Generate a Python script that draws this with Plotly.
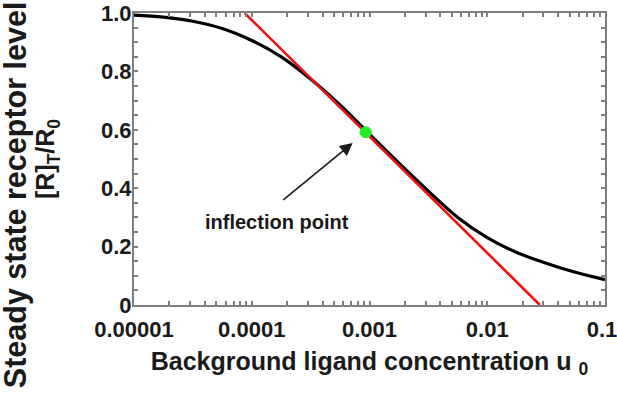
import math
import plotly.graph_objects as go

# ---- data ----
u_curve = [1.0e-5, 1.78e-5, 3.16e-5, 5.62e-5, 1.0e-4, 1.78e-4, 3.16e-4, 5.62e-4,
           1.0e-3, 1.78e-3, 3.16e-3, 5.62e-3, 1.0e-2, 1.78e-2, 3.16e-2, 5.62e-2, 0.1]
r_curve = [0.993, 0.986, 0.972, 0.947, 0.906, 0.850, 0.774, 0.685,
           0.585, 0.486, 0.390, 0.300, 0.231, 0.180, 0.143, 0.112, 0.087]

u_tangent = [8.7e-5, 0.028]
r_tangent = [1.0, 0.0]

u_inflection = [9.3e-4]
r_inflection = [0.592]

x_major = [1e-5, 1e-4, 1e-3, 1e-2, 1e-1]
x_major_text = ["0.00001", "0.0001", "0.001", "0.01", "0.1&nbsp;"]
y_major = [0, 0.2, 0.4, 0.6, 0.8, 1.0]
y_major_text = ["0", "0.2", "0.4", "0.6", "0.8", "1.0"]

x_tickvals, x_ticktext = [], []
for d in range(-5, -1):
    for k in range(1, 10):
        x_tickvals.append(k * 10.0 ** d)
        x_ticktext.append("<b>" + x_major_text[d + 5] + "</b>" if k == 1 else "")
x_tickvals.append(x_major[-1])
x_ticktext.append("<b>" + x_major_text[-1] + "</b>")

y_tickvals, y_ticktext = [], []
for i in range(21):
    v = round(i * 0.05, 2)
    y_tickvals.append(v)
    y_ticktext.append("<b>" + y_major_text[i // 4] + "</b>" if i % 4 == 0 else "")

FONT = "Liberation Sans, Arial, Helvetica, sans-serif"
TXT = "#1a1a1a"
AX = "#7f7f7f"

fig = go.Figure()
fig.add_trace(go.Scatter(x=u_curve, y=r_curve, mode="lines",
                         line=dict(color="black", width=3.2, shape="spline", smoothing=1.0),
                         showlegend=False, hoverinfo="skip"))
fig.add_trace(go.Scatter(x=u_tangent, y=r_tangent, mode="lines",
                         line=dict(color="#ee1111", width=2.6),
                         showlegend=False, hoverinfo="skip"))
fig.add_trace(go.Scatter(x=u_inflection, y=r_inflection, mode="markers",
                         marker=dict(color="#22ee22", size=12, line=dict(width=0)),
                         showlegend=False, hoverinfo="skip"))

fig.update_layout(
    width=617, height=394,
    margin=dict(l=134, r=12, t=13, b=89),
    paper_bgcolor="white", plot_bgcolor="white",
    font=dict(family=FONT, color=TXT),
)

fig.update_xaxes(
    type="log", range=[-5.0001, -0.9999], automargin=False,
    tickmode="array", tickvals=x_tickvals, ticktext=x_ticktext, tickangle=0,
    ticks="inside", ticklen=4, tickcolor=AX, tickwidth=1.5,
    showline=True, linecolor=AX, linewidth=2, mirror="allticks",
    showgrid=False, zeroline=False,
    tickfont=dict(family=FONT, size=22, color=TXT),
    ticklabeloverflow="allow", ticklabelstandoff=4,
    title=dict(text="<b>Background ligand concentration u <sub>0</sub></b>",
               font=dict(family=FONT, size=25, color=TXT),
               standoff=11),
)
fig.update_yaxes(
    range=[-0.0001, 1.0001], automargin=False,
    tickmode="array", tickvals=y_tickvals, ticktext=y_ticktext, tickangle=0,
    ticks="inside", ticklen=4, tickcolor=AX, tickwidth=1.5,
    showline=True, linecolor=AX, linewidth=2, mirror="allticks",
    showgrid=False, zeroline=False,
    tickfont=dict(family=FONT, size=22, color=TXT),
    ticklabelstandoff=-4,
    title=dict(text="<b>[R]<sub>T</sub>/R<sub>0</sub></b>",
               font=dict(family=FONT, size=25, color=TXT),
               standoff=39),
)

# first line of the y-axis title
fig.add_annotation(xref="paper", yref="paper", x=-0.25, y=0.377,
                   text="<b>Steady state receptor level</b>", textangle=-90,
                   showarrow=False, xanchor="center", yanchor="middle",
                   font=dict(family=FONT, size=30.5, color=TXT))

# arrow to inflection point
fig.add_annotation(x=math.log10(u_inflection[0]), y=r_inflection[0], xref="x", yref="y",
                   text="", showarrow=True, ax=-84, ay=69, axref="pixel", ayref="pixel",
                   arrowhead=2, arrowsize=1.6, arrowwidth=1.6, arrowcolor="#1a1a1a",
                   standoff=17)
fig.add_annotation(xref="paper", yref="paper", x=0.3036, y=0.284,
                   text="<b>inflection point</b>", showarrow=False,
                   xanchor="center", yanchor="middle",
                   font=dict(family=FONT, size=20, color=TXT))

fig.write_html("out.html", config={"displayModeBar": False},
               post_script="document.body.style.margin='0px';")
